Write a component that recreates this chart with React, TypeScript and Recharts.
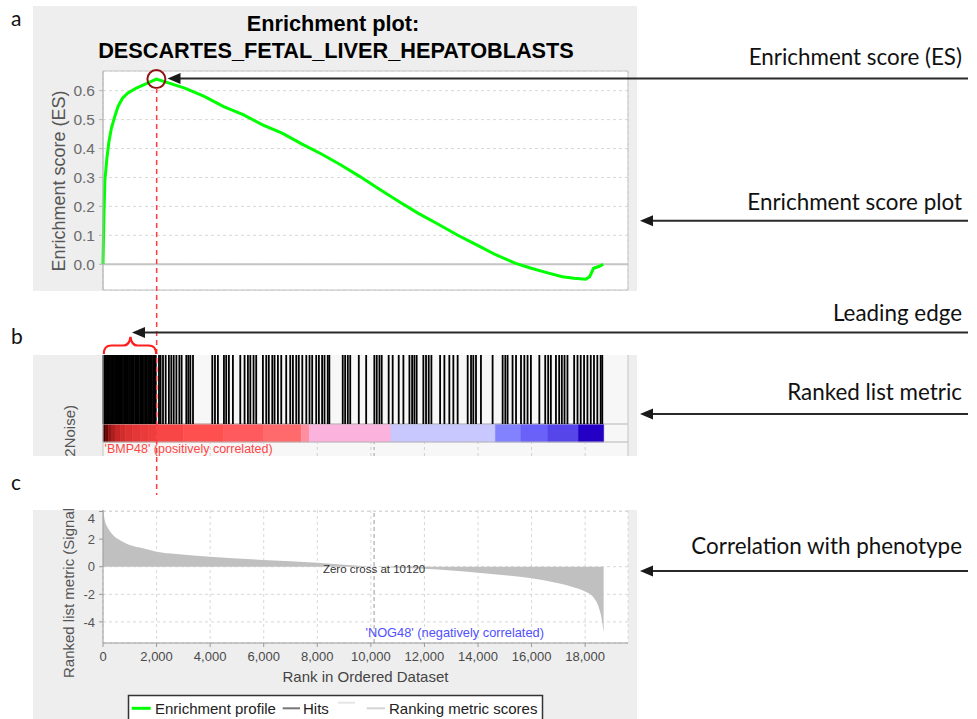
import React from "react";
import {
  ComposedChart,
  Line,
  Area,
  XAxis,
  YAxis,
  CartesianGrid,
  ReferenceLine,
  ReferenceArea,
  ReferenceDot,
} from "recharts";

const FONT = "'Liberation Sans', Arial, sans-serif";
const NOTE_FONT = "Lato, 'Open Sans', sans-serif";
const PANEL_BG = "#eeeeee";

// rank axis shared by the three panels
const rankMax = 19600;
const rankTicks = [0, 2000, 4000, 6000, 8000, 10000, 12000, 14000, 16000, 18000];
const rankGrid = [2000, 4000, 6000, 8000, 10000, 12000, 14000, 16000, 18000];

// a) running enrichment score
const esRanks = [
  0, 35, 70, 150, 216, 313, 437, 560, 728, 933, 1246, 1619, 1993, 2470, 3052, 3780, 4504,
  5231, 5959, 6687, 7415, 8138, 8866, 9593, 10321, 11045, 11773, 12500, 13228, 13951,
  14679, 15407, 15989, 16567, 17149, 17586, 18022, 18168, 18313, 18533, 18675,
];
const esScores = [
  0, 0.17, 0.29, 0.37, 0.42, 0.47, 0.51, 0.545, 0.574, 0.592, 0.609, 0.624, 0.64, 0.626,
  0.609, 0.58, 0.545, 0.517, 0.482, 0.453, 0.416, 0.382, 0.344, 0.303, 0.259, 0.217, 0.176,
  0.139, 0.101, 0.067, 0.032, 0.003, -0.014, -0.029, -0.043, -0.048, -0.052, -0.043, -0.014,
  -0.007, 0,
];
const esPeakRank = 1993;
const esPeak = 0.64;
const esTicks = [0, 0.1, 0.2, 0.3, 0.4, 0.5, 0.6];

// b) gene set members along the ranked list
const hitRanks = [
  10, 40, 75, 110, 150, 185, 220, 260, 300, 335, 370, 410, 450, 490, 530, 570, 610, 650, 700,
  745, 790, 830, 880, 925, 970, 1010, 1060, 1100, 1150, 1200, 1240, 1290, 1340, 1390, 1430,
  1480, 1530, 1580, 1630, 1680, 1720, 1770, 1820, 1870, 1920, 1970,
  2090, 2150, 2240, 2340, 2460, 2550, 2640, 2740, 2850, 2935, 3110, 3185, 3260, 3360, 4080,
  4180, 4290, 4515, 4600, 4700, 4850, 5125, 5285, 5410, 5500, 5620, 5720, 5970, 6095, 6190,
  6320, 6405, 6530, 6655, 6840, 6990, 7090, 7215, 7310, 7440, 7590, 7710, 7810, 7960, 8060,
  8180, 8270, 8390, 8450, 8950, 9040, 9140, 9230, 9550, 9825, 10130, 10220, 10320, 10405,
  10665, 10815, 11040, 11215, 11440, 11540, 11625, 11710, 11960, 12060, 12160, 12260, 12585,
  12745, 12930, 13080, 13240, 13615, 13740, 13825, 13925, 14110, 14545, 14920, 15020, 15105,
  15290, 15420, 15605, 15730, 15850, 15975, 16290, 16510, 16620, 16720, 16910, 17030, 17130,
  17230, 17340, 17590, 17715, 17835, 17960, 18085, 18210, 18330, 18455, 18580, 18640,
];
// colour strip under the hits (metric heat map)
const stripStart = [
  0, 90, 200, 330, 480, 650, 850, 1100, 1400, 1700, 2000, 3000, 4500, 6000, 7400, 7700, 10750,
  14650, 15600, 16600, 17750,
];
const stripEnd = [
  90, 200, 330, 480, 650, 850, 1100, 1400, 1700, 2000, 3000, 4500, 6000, 7400, 7700, 10750,
  14650, 15600, 16600, 17750, 18690,
];
const stripColor = [
  "#3c0000", "#6e0606", "#951414", "#b01e1e", "#c62626", "#d22c2c", "#dc3232", "#e43636",
  "#ea3a3a", "#ef3e3e", "#f84646", "#ff5050", "#ff5a5e", "#ff6a6c", "#ff8f9f", "#fbb2dc",
  "#c8c8ff", "#8282ff", "#6a62f8", "#5646ea", "#2400c4",
];

// c) ranked list metric (signal to noise)
const metricRanks = [
  0, 63, 187, 373, 623, 996, 1493, 2000, 2739, 4000, 6000, 8000, 9000, 10120, 11000, 12000,
  13000, 14000, 15000, 16000, 17000, 17500, 18000, 18300, 18500, 18620, 18690,
];
const metricValues = [
  4.4, 3.4, 2.8, 2.3, 1.93, 1.57, 1.33, 1.09, 0.92, 0.72, 0.49, 0.29, 0.15, 0, -0.07, -0.15,
  -0.28, -0.43, -0.62, -0.84, -1.2, -1.45, -1.8, -2.2, -2.9, -3.8, -4.8,
];
const metricTicks = [-4, -2, 0, 2, 4];
const zeroCross = 10120;

// panel b vertical layout (in its own y units, 0 = bottom of panel)
const B_TOP = 101;
const HIT_LOW = 32;
const STRIP_LOW = 14;

const esData = esRanks.map((rank, i) => ({ rank, es: esScores[i] }));
const metricData = metricRanks.map((rank, i) => ({ rank, metric: metricValues[i] }));
const hitData = hitRanks.map((rank) => ({ rank, top: B_TOP }));

const fmtRank = (v: number) => v.toLocaleString("en-US");
const rankToX = (r: number) => 103.3 + (r * 524.7) / rankMax;

function PanelA() {
  return (
    <div style={{ position: "absolute", left: 33, top: 6, width: 604, height: 285, background: PANEL_BG }}>
      <ComposedChart width={604} height={285} data={esData} margin={{ top: 65, right: 9, bottom: 0, left: 0 }}>
        <CartesianGrid fill="#ffffff" stroke="#d8d8d8" strokeDasharray="3 3" />
        <XAxis
          dataKey="rank"
          type="number"
          domain={[0, rankMax]}
          ticks={rankTicks}
          height={1}
          tick={false}
          axisLine={false}
          tickLine={false}
        />
        <YAxis
          type="number"
          domain={[-0.089, 0.668]}
          ticks={esTicks}
          allowDataOverflow
          width={70}
          tickFormatter={(v: number) => v.toFixed(1)}
          tick={{ fill: "#6b6b6b", fontSize: 15.5, fontFamily: FONT }}
          tickSize={4}
          tickMargin={4}
          stroke="#b8b8b8"
        />
        <ReferenceArea x1={0} x2={rankMax} y1={-0.089} y2={0.668} fill="none" stroke="#c6c6c6" />
        <ReferenceLine y={0} stroke="#c4c4c4" strokeWidth={2} />
        <Line dataKey="es" type="linear" stroke="#00ff00" strokeWidth={3} dot={false} isAnimationActive={false} />
        <ReferenceDot x={esPeakRank} y={esPeak} r={9} fill="none" stroke="#8e1414" strokeWidth={2} ifOverflow="visible" />
      </ComposedChart>
    </div>
  );
}

function PanelB() {
  return (
    <div style={{ position: "absolute", left: 33, top: 355, width: 604, height: 101, background: PANEL_BG }}>
      <ComposedChart width={604} height={101} data={hitData} margin={{ top: 0, right: 9, bottom: 0, left: 70 }}>
        <XAxis dataKey="rank" type="number" domain={[0, rankMax]} hide />
        <YAxis type="number" domain={[0, B_TOP]} hide />
        <ReferenceArea x1={0} x2={rankMax} y1={0} y2={B_TOP} fill="#ffffff" stroke="none" />
        {rankGrid.map((r) => (
          <ReferenceLine
            key={"g" + r}
            segment={[{ x: r, y: 0 }, { x: r, y: STRIP_LOW }]}
            stroke="#d0d0d0"
            strokeDasharray="3 3"
          />
        ))}
        <ReferenceLine
          segment={[{ x: zeroCross, y: 0 }, { x: zeroCross, y: STRIP_LOW }]}
          stroke="#a0a0a0"
          strokeDasharray="3 3"
        />
        {stripStart.map((s, i) => (
          <ReferenceArea
            key={"s" + i}
            x1={s}
            x2={stripEnd[i]}
            y1={STRIP_LOW}
            y2={HIT_LOW}
            fill={stripColor[i]}
            fillOpacity={1}
            stroke={stripColor[i]}
            strokeWidth={0.6}
          />
        ))}
        <ReferenceLine y={HIT_LOW} stroke="#b5b5b5" />
        <ReferenceLine y={STRIP_LOW} stroke="#b5b5b5" />
        {hitRanks.map((r, i) => (
          <ReferenceLine
            key={"h" + i}
            segment={[{ x: r, y: HIT_LOW }, { x: r, y: B_TOP }]}
            stroke="#000000"
            strokeWidth={1.8}
          />
        ))}
        <ReferenceLine x={0} stroke="#c4c4c4" />
        <ReferenceLine x={rankMax} stroke="#c4c4c4" />
        <Line dataKey="top" stroke="none" dot={false} activeDot={false} isAnimationActive={false} />
        <ReferenceDot
          x={60}
          y={7.5}
          r={0}
          label={{
            value: "'BMP48' (positively correlated)",
            position: "right",
            offset: 0,
            fill: "#ff4646",
            fontSize: 12.5,
            fontFamily: FONT,
          }}
        />
      </ComposedChart>
    </div>
  );
}

function PanelC() {
  return (
    <div style={{ position: "absolute", left: 33, top: 510, width: 604, height: 209, background: PANEL_BG }}>
      <ComposedChart width={604} height={209} data={metricData} margin={{ top: 0, right: 9, bottom: 31, left: 0 }}>
        <CartesianGrid fill="#ffffff" stroke="#d8d8d8" strokeDasharray="3 3" />
        <XAxis
          dataKey="rank"
          type="number"
          domain={[0, rankMax]}
          ticks={rankTicks}
          tickFormatter={fmtRank}
          height={45}
          tick={{ fill: "#4a4a4a", fontSize: 13, fontFamily: FONT }}
          tickSize={4}
          tickMargin={5}
          stroke="#9a9a9a"
          label={{
            value: "Rank in Ordered Dataset",
            position: "insideTop",
            offset: 28,
            fill: "#444444",
            fontSize: 15,
            fontFamily: FONT,
          }}
        />
        <YAxis
          type="number"
          domain={[-5.53, 4.11]}
          ticks={metricTicks}
          allowDataOverflow
          width={70}
          tick={{ fill: "#555555", fontSize: 13, fontFamily: FONT }}
          tickSize={4}
          tickMargin={4}
          stroke="#9a9a9a"
        />
        <Area
          dataKey="metric"
          type="monotone"
          baseValue={0}
          fill="#c0c0c0"
          fillOpacity={1}
          stroke="none"
          isAnimationActive={false}
        />
        <ReferenceLine x={zeroCross} stroke="#9a9a9a" strokeDasharray="4 3" />
        <ReferenceDot
          x={zeroCross}
          y={-0.17}
          r={0}
          label={{
            value: `Zero cross at ${zeroCross}`,
            position: "center",
            fill: "#333333",
            fontSize: 11.5,
            fontFamily: FONT,
          }}
        />
        <ReferenceDot
          x={13130}
          y={-4.77}
          r={0}
          label={{
            value: "'NOG48' (negatively correlated)",
            position: "center",
            fill: "#5050ff",
            fontSize: 12.8,
            fontFamily: FONT,
          }}
        />
      </ComposedChart>
    </div>
  );
}

const notes = [
  { text: "Enrichment score (ES)", baseline: 65, arrowY: 78.5, tip: 167.5 },
  { text: "Enrichment score plot", baseline: 210, arrowY: 220.7, tip: 640 },
  { text: "Leading edge", baseline: 320.5, arrowY: 332.5, tip: 132 },
  { text: "Ranked list metric", baseline: 400, arrowY: 414, tip: 640 },
  { text: "Correlation with phenotype", baseline: 554, arrowY: 571, tip: 640 },
];

function Overlay() {
  const peakX = rankToX(esPeakRank);
  const x0 = rankToX(0);
  const mid = (x0 + peakX) / 2 + 0.5;
  return (
    <svg width={977} height={719} style={{ position: "absolute", left: 0, top: 0, pointerEvents: "none" }}>
      {/* panel letters */}
      <text x={11} y={26} fontFamily={NOTE_FONT} fontSize={21} fill="#111">a</text>
      <text x={11} y={344} fontFamily={NOTE_FONT} fontSize={21} fill="#111">b</text>
      <text x={11} y={490} fontFamily={NOTE_FONT} fontSize={21} fill="#111">c</text>

      {/* panel a title */}
      <text x={333} y={31} textAnchor="middle" fontFamily={FONT} fontWeight="bold" fontSize={21.7} fill="#000">
        Enrichment plot:
      </text>
      <text x={336} y={58} textAnchor="middle" fontFamily={FONT} fontWeight="bold" fontSize={21.7} fill="#000">
        DESCARTES_FETAL_LIVER_HEPATOBLASTS
      </text>

      {/* axis titles (cut by the panel crops) */}
      <text x={65} y={181} textAnchor="middle" transform="rotate(-90 65 181)" fontFamily={FONT} fontSize={18} fill="#555">
        Enrichment score (ES)
      </text>
      <text x={75} y={405} textAnchor="end" transform="rotate(-90 75 405)" fontFamily={FONT} fontSize={15} fill="#555">
        2Noise)
      </text>
      <text x={74} y={678} textAnchor="start" transform="rotate(-90 74 678)" fontFamily={FONT} fontSize={15} fill="#555">
        Ranked list metric (Signal
      </text>

      {/* leading edge marker */}
      <line x1={peakX} y1={88} x2={peakX} y2={495} stroke="#ff3b3b" strokeWidth={1.5} strokeDasharray="5 4" />
      <path
        d={`M${x0 + 0.5},354 Q${x0 + 0.5},345.5 ${x0 + 8},345.5 L${mid - 7},345.5 Q${mid - 1},345.5 ${mid},337 Q${mid + 1},345.5 ${mid + 7},345.5 L${peakX - 8},345.5 Q${peakX - 0.5},345.5 ${peakX - 0.5},354`}
        fill="none"
        stroke="#ff1e1e"
        strokeWidth={2.2}
      />

      {/* right side notes */}
      {notes.map((n) => (
        <g key={n.text}>
          <text x={962} y={n.baseline} textAnchor="end" fontFamily={NOTE_FONT} fontSize={22.4} fill="#111">
            {n.text}
          </text>
          <line x1={968} y1={n.arrowY} x2={n.tip + 10} y2={n.arrowY} stroke="#2a2a2a" strokeWidth={2} />
          <polygon
            points={`${n.tip},${n.arrowY} ${n.tip + 13},${n.arrowY - 5.5} ${n.tip + 13},${n.arrowY + 5.5}`}
            fill="#1a1a1a"
          />
        </g>
      ))}

      {/* legend */}
      <rect x={128.5} y={695.5} width={414} height={30} fill="#ffffff" stroke="#333" strokeWidth={1.5} />
      <line x1={131.7} y1={708.3} x2={150.7} y2={708.3} stroke="#00ff00" strokeWidth={3} />
      <text x={155} y={713.5} fontFamily={FONT} fontSize={15} fill="#222">Enrichment profile</text>
      <line x1={282.7} y1={708.3} x2={300} y2={708.3} stroke="#777" strokeWidth={2} />
      <text x={303} y={713.5} fontFamily={FONT} fontSize={15} fill="#222">Hits</text>
      <line x1={338} y1={702.7} x2={355} y2={702.7} stroke="#e6e6e6" strokeWidth={2} />
      <line x1={366.7} y1={708.3} x2={385} y2={708.3} stroke="#d4d4d4" strokeWidth={2} />
      <text x={389} y={713.5} fontFamily={FONT} fontSize={15} fill="#222">Ranking metric scores</text>
    </svg>
  );
}

export default function App() {
  return (
    <div style={{ position: "absolute", left: 0, top: 0, width: 977, height: 719, overflow: "hidden", background: "#ffffff" }}>
      <PanelA />
      <PanelB />
      <PanelC />
      <Overlay />
    </div>
  );
}
